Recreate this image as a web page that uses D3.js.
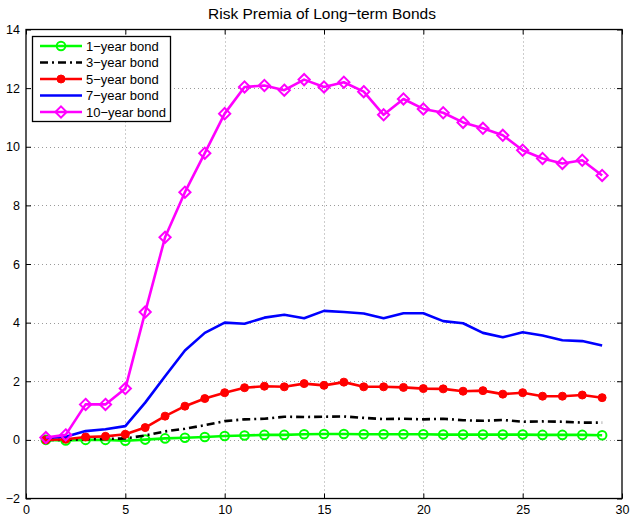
<!DOCTYPE html>
<html>
<head>
<meta charset="utf-8">
<script src="https://cdn.jsdelivr.net/npm/d3@7"></script>
<style>
  body { margin: 0; background: #fff; }
  svg { font-family: "Liberation Sans", Arial, sans-serif; }
</style>
</head>
<body>
<svg id="chart" width="630" height="517"></svg>
<script>
// horizon (periods)
const horizon = d3.range(1, 30);

// risk premia per bond maturity
const bond1 = [0.00, -0.02, 0.00, 0.00, -0.03, 0.01, 0.05, 0.07, 0.10, 0.13, 0.15, 0.17, 0.17, 0.19, 0.20,
  0.20, 0.19, 0.19, 0.19, 0.19, 0.18, 0.18, 0.18, 0.18, 0.18, 0.17, 0.17, 0.17, 0.16];
const bond3 = [0.00, 0.00, 0.02, 0.03, 0.05, 0.15, 0.29, 0.38, 0.50, 0.64, 0.70, 0.72, 0.79, 0.78, 0.79,
  0.80, 0.75, 0.71, 0.72, 0.70, 0.72, 0.67, 0.65, 0.68, 0.62, 0.63, 0.62, 0.59, 0.59];
const bond5 = [0.00, 0.02, 0.10, 0.12, 0.19, 0.42, 0.81, 1.15, 1.41, 1.61, 1.78, 1.83, 1.81, 1.92, 1.86,
  1.97, 1.81, 1.81, 1.79, 1.75, 1.74, 1.66, 1.68, 1.56, 1.61, 1.49, 1.49, 1.53, 1.44];
const bond7 = [0.07, 0.11, 0.30, 0.36, 0.47, 1.27, 2.17, 3.05, 3.65, 4.00, 3.96, 4.17, 4.27, 4.15, 4.40,
  4.36, 4.31, 4.15, 4.32, 4.32, 4.05, 3.98, 3.65, 3.50, 3.67, 3.56, 3.40, 3.37, 3.22];
const bond10 = [0.08, 0.17, 1.21, 1.21, 1.75, 4.36, 6.91, 8.45, 9.78, 11.13, 12.04, 12.09, 11.93, 12.29, 12.04,
  12.20, 11.88, 11.09, 11.63, 11.29, 11.16, 10.83, 10.63, 10.39, 9.88, 9.60, 9.43, 9.54, 9.02];

const seriesNames = ['1\u2212year bond', '3\u2212year bond', '5\u2212year bond', '7\u2212year bond', '10\u2212year bond'];
const xTicks = [0, 5, 10, 15, 20, 25, 30];
const yTicks = [-2, 0, 2, 4, 6, 8, 10, 12, 14];
const title = 'Risk Premia of Long\u2212term Bonds';

const series = [
  { name: seriesNames[0], values: bond1, color: '#00ff00', marker: 'circle', dash: null },
  { name: seriesNames[1], values: bond3, color: '#000000', marker: null, dash: '8,4,2,4' },
  { name: seriesNames[2], values: bond5, color: '#ff0000', marker: 'dot', dash: null },
  { name: seriesNames[3], values: bond7, color: '#0000ff', marker: null, dash: null },
  { name: seriesNames[4], values: bond10, color: '#ff00ff', marker: 'diamond', dash: null }
];

const svg = d3.select('#chart');
const m = { left: 26, right: 622, top: 29.5, bottom: 498.5 };

const x = d3.scaleLinear().domain([0, 30]).range([m.left, m.right]);
const y = d3.scaleLinear().domain([-2, 14]).range([m.bottom, m.top]);

// grid
const grid = svg.append('g').attr('stroke', '#9a9a9a').attr('stroke-width', 1).attr('stroke-dasharray', '1,3');
grid.selectAll('.gx').data(xTicks.slice(1, -1)).join('line')
  .attr('x1', d => Math.round(x(d)) + 0.5).attr('x2', d => Math.round(x(d)) + 0.5)
  .attr('y1', m.top).attr('y2', m.bottom);
grid.selectAll('.gy').data(yTicks.slice(1, -1)).join('line')
  .attr('y1', d => Math.round(y(d)) + 0.5).attr('y2', d => Math.round(y(d)) + 0.5)
  .attr('x1', m.left).attr('x2', m.right);

// axes (MATLAB style: inward ticks on all four sides)
const axB = svg.append('g').attr('transform', `translate(0,${m.bottom})`)
  .call(d3.axisBottom(x).tickValues(xTicks).tickSizeInner(-5).tickSizeOuter(0).tickPadding(7));
const axT = svg.append('g').attr('transform', `translate(0,${m.top})`)
  .call(d3.axisTop(x).tickValues(xTicks).tickSizeInner(-5).tickSizeOuter(0).tickFormat(''));
const axL = svg.append('g').attr('transform', `translate(${m.left},0)`)
  .call(d3.axisLeft(y).tickValues(yTicks).tickSizeInner(-5).tickSizeOuter(0).tickPadding(6)
    .tickFormat(d => d < 0 ? '\u2212' + Math.abs(d) : d));
const axR = svg.append('g').attr('transform', `translate(${m.right},0)`)
  .call(d3.axisRight(y).tickValues(yTicks).tickSizeInner(-5).tickSizeOuter(0).tickFormat(''));

[axB, axT, axL, axR].forEach(a => {
  a.select('.domain').remove();
  a.selectAll('.tick line').attr('stroke', '#000').attr('stroke-width', 1);
  a.selectAll('.tick text').attr('fill', '#000').attr('font-size', 12.5)
    .attr('font-family', '"Liberation Sans", Arial, sans-serif');
});

svg.append('rect')
  .attr('x', m.left).attr('y', m.top)
  .attr('width', m.right - m.left).attr('height', m.bottom - m.top)
  .attr('fill', 'none').attr('stroke', '#000').attr('stroke-width', 1.3);

// title
svg.append('text').attr('x', 322).attr('y', 19)
  .attr('text-anchor', 'middle').attr('font-size', 15.5).text(title);

const line = d3.line().x((d, i) => x(horizon[i])).y(d => y(d));

function drawMarker(g, type, color, cx, cy) {
  if (type === 'circle') {
    g.append('circle').attr('cx', cx).attr('cy', cy).attr('r', 4.3)
      .attr('fill', 'none').attr('stroke', color).attr('stroke-width', 2);
  } else if (type === 'dot') {
    g.append('circle').attr('cx', cx).attr('cy', cy).attr('r', 4)
      .attr('fill', color).attr('stroke', color).attr('stroke-width', 1);
  } else if (type === 'diamond') {
    const s = 5.6;
    g.append('path')
      .attr('d', `M${cx},${cy - s}L${cx + s},${cy}L${cx},${cy + s}L${cx - s},${cy}Z`)
      .attr('fill', 'none').attr('stroke', color).attr('stroke-width', 2);
  }
}

const plot = svg.append('g');
series.forEach(s => {
  const g = plot.append('g');
  g.append('path').datum(s.values)
    .attr('d', line)
    .attr('fill', 'none')
    .attr('stroke', s.color)
    .attr('stroke-width', 2.6)
    .attr('stroke-linejoin', 'round')
    .attr('stroke-dasharray', s.dash);
  if (s.marker) {
    s.values.forEach((v, i) => drawMarker(g, s.marker, s.color, x(horizon[i]), y(v)));
  }
});

// legend
const lg = svg.append('g');
lg.append('rect').attr('x', 32.5).attr('y', 36.5).attr('width', 138).attr('height', 85)
  .attr('fill', '#fff').attr('stroke', '#000').attr('stroke-width', 1.3);
series.forEach((s, i) => {
  const ly = 46 + i * 16.5;
  lg.append('line').attr('x1', 40).attr('x2', 82).attr('y1', ly).attr('y2', ly)
    .attr('stroke', s.color).attr('stroke-width', 2.6).attr('stroke-dasharray', s.dash);
  if (s.marker) drawMarker(lg, s.marker, s.color, 61, ly);
  lg.append('text').attr('x', 86).attr('y', ly + 4.8).attr('font-size', 13).text(s.name);
});
</script>
</body>
</html>
